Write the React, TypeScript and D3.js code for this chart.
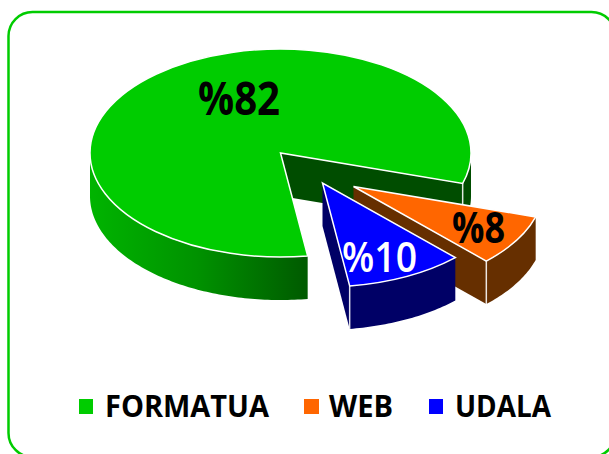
import React from 'react';
import * as d3 from 'd3';

const categories = ['FORMATUA', 'WEB', 'UDALA'];
const values = [82, 8, 10];
const valueLabels = ['%82', '%8', '%10'];

const topColors = ['#00cc00', '#ff6600', '#0000ff'];
const wallColors = ['url(#greenWall)', '#662f00', '#000066'];
const cutColors = ['#004d00', '#662f00', '#000066'];

const width = 609;
const height = 454;
const cx = 280.5;
const cy = 153;
const rx = 190.5;
const ry = 104;
const depth = 43;
const deg = Math.PI / 180;

// how far each slice is pulled out of the pie
const offsets = [[0, 0], [73, 33.5], [42, 30]];
const labelPos = [[198, 115], [452, 243], [342, 272]];
const labelSize = [47, 43, 42];
const labelWidth = [82, 53, 75];
const labelColor = ['#000', '#000', '#fff'];
const legendX = [79, 304, 429];
const legendW = [14, 15, 14];
const legendTextX = [105, 329, 455];
const legendTextW = [164, 64, 96];

const pie = d3.pie<number>().sort(null).startAngle(171.8 * deg).endAngle(531.8 * deg);
const arcs = pie(values);
const arcGen = d3.arc<d3.PieArcDatum<number>>().innerRadius(0).outerRadius(rx);
const line = d3.line();

const px = (a: number) => rx * Math.sin(a);
const py = (a: number) => -ry * Math.cos(a);

// side wall under the rim, only the part turned to the viewer (90deg to 270deg, plus turns)
function rimWalls(a0: number, a1: number) {
  const out: string[] = [];
  for (let turn = 0; turn < 2; turn++) {
    const lo = Math.max(a0, (90 + 360 * turn) * deg);
    const hi = Math.min(a1, (270 + 360 * turn) * deg);
    if (lo >= hi) continue;
    const top = d3.range(lo, hi, deg).concat(hi).map(a => [px(a), py(a)] as [number, number]);
    const bottom = top.map(([x, y]) => [x, y + depth] as [number, number]).reverse();
    out.push(line([...top, ...bottom]) + 'Z');
  }
  return out;
}

function cutWall(a: number) {
  const x = px(a);
  const y = py(a);
  return line([[0, 0], [x, y], [x, y + depth], [0, depth]]) + 'Z';
}

export default function App() {
  return (
    <svg
      width={width}
      height={height}
      viewBox={`0 0 ${width} ${height}`}
      style={{ position: 'fixed', left: 0, top: 0, background: '#fff', fontFamily: '"Open Sans", sans-serif' }}
    >
      <defs>
        <linearGradient id="greenWall" gradientUnits="userSpaceOnUse" x1={-rx} x2={rx} y1={0} y2={0}>
          <stop offset="0" stopColor="#00b400" />
          <stop offset="0.28" stopColor="#009200" />
          <stop offset="0.56" stopColor="#005c00" />
          <stop offset="1" stopColor="#004d00" />
        </linearGradient>
      </defs>
      <rect x={8.5} y={12} width={607} height={445} rx={24} fill="none" stroke="#00cc00" strokeWidth={2.5} />

      {arcs.map((d, i) => {
        const [dx, dy] = offsets[i];
        return (
          <g key={categories[i]} transform={`translate(${cx + dx},${cy + dy})`}>
            <path d={cutWall(d.endAngle)} fill={cutColors[i]} />
            {rimWalls(d.startAngle, d.endAngle).map((p, j) => (
              <path key={j} d={p} fill={wallColors[i]} />
            ))}
            <line
              x1={px(d.endAngle)} x2={px(d.endAngle)}
              y1={py(d.endAngle)} y2={py(d.endAngle) + depth}
              stroke="#fff" strokeOpacity={0.85} strokeWidth={1.5}
            />
            <path
              d={arcGen(d) as string}
              transform={`scale(1,${ry / rx})`}
              fill={topColors[i]}
              stroke="#fff"
              strokeWidth={1.5}
              vectorEffect="non-scaling-stroke"
            />
          </g>
        );
      })}

      {valueLabels.map((t, i) => (
        <text
          key={t}
          x={labelPos[i][0]}
          y={labelPos[i][1]}
          fontSize={labelSize[i]}
          fontWeight={i === 2 ? 600 : 700}
          fill={labelColor[i]}
          textLength={labelWidth[i]}
          lengthAdjust="spacingAndGlyphs"
        >
          {t}
        </text>
      ))}

      {categories.map((c, i) => (
        <g key={c}>
          <rect x={legendX[i]} y={399} width={legendW[i]} height={15} fill={topColors[i]} />
          <text
            x={legendTextX[i]}
            y={417}
            fontSize={31}
            fontWeight={700}
            fill="#000"
            textLength={legendTextW[i]}
            lengthAdjust="spacingAndGlyphs"
          >
            {c}
          </text>
        </g>
      ))}
    </svg>
  );
}
